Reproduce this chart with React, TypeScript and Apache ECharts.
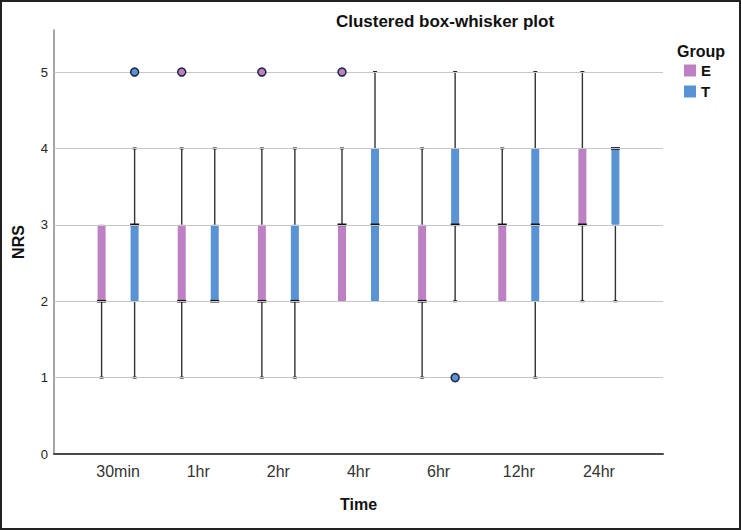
import React, { useEffect, useRef } from "react";
import * as echarts from "echarts";

const categories = ["30min", "1hr", "2hr", "4hr", "6hr", "12hr", "24hr"];
// [min whisker, Q1, median, Q3, max whisker]
const groupE = [
  [1, 2, 2, 3, 3],
  [1, 2, 2, 3, 4],
  [1, 2, 2, 3, 4],
  [2, 2, 3, 3, 4],
  [1, 2, 2, 3, 4],
  [2, 2, 3, 3, 4],
  [2, 3, 3, 4, 5],
];
const groupT = [
  [1, 2, 3, 3, 4],
  [2, 2, 2, 3, 4],
  [1, 2, 2, 3, 4],
  [2, 2, 3, 4, 5],
  [2, 3, 3, 4, 5],
  [1, 2, 3, 4, 5],
  [2, 3, 4, 4, 4],
];
const outlierECat = [1, 2, 3];
const outlierEVal = [5, 5, 5];
const outlierTCat = [0, 4];
const outlierTVal = [5, 1];
const gridValues = [1, 2, 3, 4, 5];

const colorE = "#bd80c3";
const colorT = "#5a93d4";
const OFFSET = 0.206;
const FONT = "Liberation Sans, Arial, sans-serif";

function boxRender(color: string) {
  return (params: any, api: any) => {
    const x = api.value(0);
    const lo = api.value(1);
    const q1 = api.value(2);
    const med = api.value(3);
    const q3 = api.value(4);
    const hi = api.value(5);
    const pLo = api.coord([x, lo]);
    const pQ1 = api.coord([x, q1]);
    const pMed = api.coord([x, med]);
    const pQ3 = api.coord([x, q3]);
    const pHi = api.coord([x, hi]);
    const cx = pQ1[0];
    const bw = 8;
    const children: any[] = [];
    const wStyle = { stroke: "#333", lineWidth: 1.4 };
    const capStyle = { stroke: "#222", lineWidth: 2 };
    if (hi > q3) {
      children.push({ type: "line", shape: { x1: cx, y1: pQ3[1], x2: cx, y2: pHi[1] }, style: wStyle });
      children.push({ type: "line", shape: { x1: cx - 2, y1: pHi[1], x2: cx + 2, y2: pHi[1] }, style: capStyle });
    }
    if (lo < q1) {
      children.push({ type: "line", shape: { x1: cx, y1: pQ1[1], x2: cx, y2: pLo[1] }, style: wStyle });
      children.push({ type: "line", shape: { x1: cx - 2, y1: pLo[1], x2: cx + 2, y2: pLo[1] }, style: capStyle });
    }
    children.push({
      type: "rect",
      shape: { x: cx - bw / 2, y: pQ3[1], width: bw, height: pQ1[1] - pQ3[1], r: 1 },
      style: { fill: color },
    });
    children.push({
      type: "line",
      shape: { x1: cx - bw / 2 - 0.5, y1: pMed[1], x2: cx + bw / 2 + 0.5, y2: pMed[1] },
      style: { stroke: "#111", lineWidth: 2.6 },
    });
    return { type: "group", children };
  };
}

export default function App() {
  const ref = useRef<HTMLDivElement>(null);
  useEffect(() => {
    document.body.style.margin = "0";
    const chart = echarts.init(ref.current!, undefined, { renderer: "svg" });
    const dataE = groupE.map((d, i) => [i - OFFSET, ...d]);
    const dataT = groupT.map((d, i) => [i + OFFSET, ...d]);
    const outE = outlierECat.map((c, i) => [c - OFFSET, outlierEVal[i]]);
    const outT = outlierTCat.map((c, i) => [c + OFFSET, outlierTVal[i]]);
    chart.setOption({
      animation: false,
      backgroundColor: "#fff",
      title: [
        {
          text: "Clustered box-whisker plot",
          left: 440,
          top: 8,
          textAlign: "center",
          textStyle: { fontSize: 17, fontWeight: "bold", color: "#111", fontFamily: FONT },
        },
        {
          text: "Group",
          left: 696,
          top: 38,
          textAlign: "center",
          textStyle: { fontSize: 16, fontWeight: "bold", color: "#111", fontFamily: FONT },
        },
      ],
      legend: {
        data: [
          { name: "E", icon: "rect" },
          { name: "T", icon: "rect" },
        ],
        orient: "vertical",
        left: 684,
        top: 63,
        padding: 0,
        itemWidth: 12,
        itemHeight: 12,
        itemGap: 6,
        textStyle: { fontSize: 15, fontWeight: "bold", color: "#111", fontFamily: FONT },
      },
      grid: { left: 54, right: 78, top: 30, bottom: 76, containLabel: false },
      xAxis: {
        type: "value",
        min: -0.8,
        max: 6.8,
        interval: 0.2,
        name: "Time",
        nameLocation: "middle",
        nameGap: 42,
        nameTextStyle: { fontSize: 16, fontWeight: "bold", color: "#111", fontFamily: FONT },
        axisLine: { show: true, onZero: false, lineStyle: { color: "#4a4a4a", width: 2 } },
        axisTick: { show: false },
        splitLine: { show: false },
        axisLabel: {
          margin: 9,
          fontSize: 16,
          color: "#333",
          fontFamily: FONT,
          formatter: (v: number) => {
            const r = Math.round(v);
            return Math.abs(v - r) < 1e-6 && r >= 0 && r < categories.length ? categories[r] : "";
          },
        },
      },
      yAxis: {
        type: "value",
        min: 0,
        max: 5.55,
        interval: 1,
        name: "NRS",
        nameLocation: "middle",
        nameGap: 28,
        nameRotate: 90,
        nameTextStyle: { fontSize: 16, fontWeight: "bold", color: "#111", fontFamily: FONT },
        axisLine: { show: true, onZero: false, lineStyle: { color: "#888", width: 1.5 } },
        axisTick: { show: false },
        splitLine: { show: false },
        axisLabel: {
          margin: 6,
          fontSize: 13,
          color: "#222",
          fontFamily: FONT,
          formatter: (v: number) => (Math.abs(v - Math.round(v)) < 1e-6 ? String(Math.round(v)) : ""),
        },
      },
      graphic: [
        {
          type: "rect",
          silent: true,
          z: 100,
          shape: { x: 1, y: 1, width: 739, height: 528 },
          style: { fill: "none", stroke: "#222", lineWidth: 2 },
        },
      ],
      series: [
        {
          name: "gridlines",
          type: "line",
          data: [],
          z: 1,
          silent: true,
          markLine: {
            silent: true,
            symbol: ["none", "none"],
            label: { show: false },
            lineStyle: { color: "#c6c6c6", width: 1.2, type: "solid" },
            emphasis: { disabled: true },
            data: gridValues.map((v) => ({ yAxis: v })),
          },
        },
        {
          name: "E",
          type: "custom",
          z: 3,
          itemStyle: { color: colorE },
          renderItem: boxRender(colorE),
          encode: { x: 0, y: [1, 2, 3, 4, 5] },
          data: dataE,
        },
        {
          name: "T",
          type: "custom",
          z: 3,
          itemStyle: { color: colorT },
          renderItem: boxRender(colorT),
          encode: { x: 0, y: [1, 2, 3, 4, 5] },
          data: dataT,
        },
        {
          name: "E outliers",
          type: "scatter",
          z: 5,
          symbol: "circle",
          symbolSize: 8,
          itemStyle: { color: colorE, borderColor: "#1e2540", borderWidth: 1.5, opacity: 1 },
          data: outE,
        },
        {
          name: "T outliers",
          type: "scatter",
          z: 5,
          symbol: "circle",
          symbolSize: 8,
          itemStyle: { color: colorT, borderColor: "#1e2540", borderWidth: 1.5, opacity: 1 },
          data: outT,
        },
      ],
    });
    return () => chart.dispose();
  }, []);
  return <div ref={ref} style={{ width: 741, height: 530 }} />;
}
